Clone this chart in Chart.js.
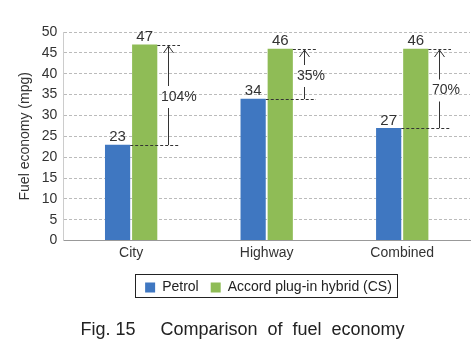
<!DOCTYPE html>
<html lang="en">
<head>
  <meta charset="UTF-8">
  <title>Comparison of fuel economy</title>
  <script src="https://cdn.jsdelivr.net/npm/chart.js"></script>
  <style>
    body { margin: 0; background: #fff; }
    .wrap { width: 473px; height: 353px; }
  </style>
</head>
<body>
  <div class="wrap">
    <canvas id="fuelChart"></canvas>
  </div>

  <script>
    const categories = ['City', 'Highway', 'Combined'];
    const petrol = [23, 34, 27];
    const hybrid = [47, 46, 46];
    const gains = ['104%', '35%', '70%'];
    const yTicks = [0, 5, 10, 15, 20, 25, 30, 35, 40, 45, 50];

    const BLUE = '#3f77c1';
    const GREEN = '#8fbc56';
    const FONT = '"Liberation Sans", Arial, sans-serif';

    Chart.defaults.font.family = FONT;
    Chart.defaults.color = '#333';

    // numbers above the bars
    const valueLabels = {
      id: 'valueLabels',
      afterDatasetsDraw(chart) {
        const ctx = chart.ctx;
        ctx.save();
        ctx.font = '15px ' + FONT;
        ctx.fillStyle = '#333';
        ctx.textAlign = 'center';
        ctx.textBaseline = 'bottom';
        chart.data.datasets.forEach((ds, d) => {
          chart.getDatasetMeta(d).data.forEach((bar, i) => {
            ctx.fillText(ds.data[i], bar.x, bar.y);
          });
        });
        ctx.restore();
      }
    };

    // dashed guides + arrow with the percent gain
    const gainArrows = {
      id: 'gainArrows',
      afterDatasetsDraw(chart) {
        const ctx = chart.ctx;
        const y = chart.scales.y;
        const lo = chart.getDatasetMeta(0).data;
        const hi = chart.getDatasetMeta(1).data;
        ctx.save();
        ctx.strokeStyle = '#333';
        ctx.lineWidth = 1;
        categories.forEach((c, i) => {
          const right = hi[i].x + hi[i].width / 2;
          const ax = Math.round(right + 11);
          const yTop = Math.round(y.getPixelForValue(hybrid[i]));
          const yBot = Math.round(y.getPixelForValue(petrol[i]));
          const end = ax + 12;

          ctx.setLineDash([3, 2]);
          ctx.beginPath();
          ctx.moveTo(right, yTop + 0.5);
          ctx.lineTo(end, yTop + 0.5);
          ctx.moveTo(lo[i].x + lo[i].width / 2, yBot + 0.5);
          ctx.lineTo(end, yBot + 0.5);
          ctx.stroke();
          ctx.setLineDash([]);

          const mid = (yTop + yBot) / 2 + 2;
          ctx.beginPath();
          ctx.moveTo(ax + 0.5, yTop + 1);
          ctx.lineTo(ax + 0.5, mid - 11);
          ctx.moveTo(ax + 0.5, mid + 11);
          ctx.lineTo(ax + 0.5, yBot);
          // arrow head
          ctx.moveTo(ax - 4.5, yTop + 8);
          ctx.lineTo(ax + 0.5, yTop + 1);
          ctx.lineTo(ax + 5.5, yTop + 8);
          ctx.stroke();

          ctx.font = '14px ' + FONT;
          ctx.fillStyle = '#333';
          ctx.textAlign = 'left';
          ctx.textBaseline = 'middle';
          ctx.fillText(gains[i], ax - 7, mid);
        });
        ctx.restore();
      }
    };

    // legend sits centred under the plot, with a frame round it
    const legendFrame = {
      id: 'legendFrame',
      afterLayout(chart) {
        const lg = chart.legend;
        lg.left += 26; lg.right += 26;
        lg.top += 3; lg.bottom += 3;
      },
      afterDraw(chart) {
        const boxes = chart.legend.legendHitBoxes;
        if (!boxes || !boxes.length) return;
        const first = boxes[0];
        const last = boxes[boxes.length - 1];
        const ctx = chart.ctx;
        ctx.save();
        ctx.strokeStyle = '#222';
        ctx.lineWidth = 1;
        const x0 = Math.round(first.left) - 9.5;
        const x1 = Math.round(last.left + last.width) + 5.5;
        const y0 = Math.round(first.top) - 5.5;
        ctx.strokeRect(x0, y0, x1 - x0, first.height + 9);
        ctx.restore();
      }
    };

    new Chart(document.getElementById('fuelChart'), {
      type: 'bar',
      data: {
        labels: categories,
        datasets: [
          { label: 'Petrol', data: petrol, backgroundColor: BLUE },
          { label: 'Accord plug-in hybrid (CS)', data: hybrid, backgroundColor: GREEN }
        ]
      },
      options: {
        responsive: true,
        maintainAspectRatio: false,
        animation: false,
        categoryPercentage: 0.4,
        barPercentage: 0.93,
        layout: { padding: { top: 32, right: 3, left: 15, bottom: 12 } },
        scales: {
          x: {
            grid: { display: false, drawTicks: false },
            border: { color: '#999' },
            ticks: { font: { size: 14 }, color: '#333', padding: 4 }
          },
          y: {
            min: 0,
            max: 50,
            afterBuildTicks(axis) { axis.ticks = yTicks.map(v => ({ value: v })); },
            grid: { color: '#bbb', drawTicks: false, tickLength: 0 },
            border: { display: true, color: '#ccc', dash: [3, 2] },
            ticks: { font: { size: 14 }, color: '#333', padding: 6 },
            title: { display: true, text: 'Fuel economy (mpg)', font: { size: 14 }, color: '#333', padding: 2 }
          }
        },
        plugins: {
          legend: {
            position: 'bottom',
            labels: { boxWidth: 10, boxHeight: 10, font: { size: 14 }, color: '#222', padding: 12 }
          },
          title: {
            display: true,
            position: 'bottom',
            text: 'Fig. 15     Comparison  of  fuel  economy',
            font: { size: 18, weight: 'normal' },
            color: '#222',
            padding: { top: 18, bottom: 0 }
          },
          tooltip: { enabled: false }
        }
      },
      plugins: [valueLabels, gainArrows, legendFrame]
    });
  </script>
</body>
</html>
